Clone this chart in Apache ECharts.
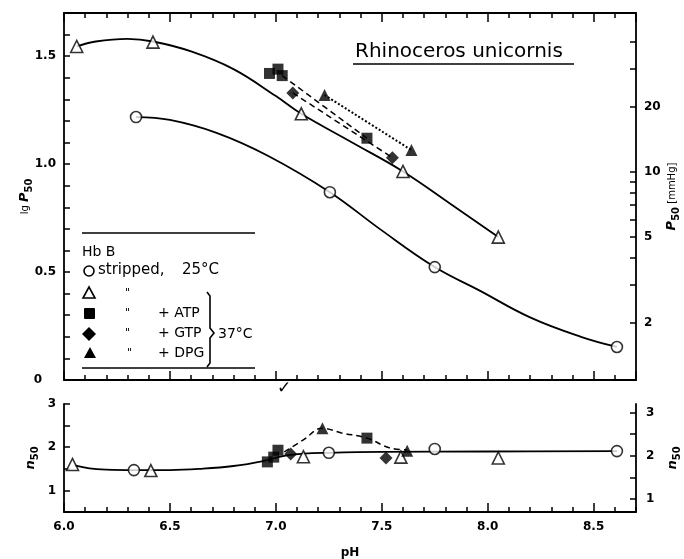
<!DOCTYPE html>
<html>
<head>
<meta charset="utf-8">
<title>Rhinoceros unicornis Hb B</title>
<script src="https://cdn.jsdelivr.net/npm/echarts@6/dist/echarts.min.js"></script>
<style>
html, body { margin: 0; padding: 0; background: #fff; }
#chart { width: 684px; height: 559px; }
</style>
</head>
<body>
<div id="chart"></div>
<script>
var phMin = 6.0, phMax = 8.7;

// upper panel, [pH, lg P50]
var stripped25Lg = [[6.34, 1.218], [7.255, 0.87], [7.75, 0.523], [8.61, 0.153]];
var stripped37Lg = [[6.06, 1.545], [6.42, 1.565], [7.12, 1.233], [7.6, 0.966], [8.05, 0.662]];
var atpLg = [[6.97, 1.42], [7.01, 1.44], [7.03, 1.41], [7.43, 1.12]];
var gtpLg = [[7.08, 1.33], [7.55, 1.03]];
var dpgLg = [[7.23, 1.32], [7.64, 1.065]];
// the drawn fit curves
var stripped25LgCurve = [[6.34, 1.218], [6.5, 1.205], [6.72, 1.145], [6.96, 1.04], [7.255, 0.87], [7.49, 0.70],
	[7.75, 0.523], [7.96, 0.415], [8.2, 0.29], [8.44, 0.20], [8.61, 0.153]];
var stripped37LgCurve = [[6.06, 1.545], [6.15, 1.568], [6.3, 1.58], [6.42, 1.568], [6.6, 1.522], [6.8, 1.44],
	[7.0, 1.315], [7.12, 1.233], [7.36, 1.10], [7.6, 0.966], [7.83, 0.812], [8.05, 0.662]];

// lower panel, [pH, n50]
var stripped25N = [[6.33, 1.47], [7.25, 1.87], [7.75, 1.96], [8.61, 1.91]];
var stripped37N = [[6.04, 1.6], [6.41, 1.46], [7.13, 1.78], [7.59, 1.77], [8.05, 1.75]];
var atpN = [[6.96, 1.66], [6.99, 1.77], [7.01, 1.93], [7.43, 2.21]];
var gtpN = [[7.07, 1.84], [7.52, 1.75]];
var dpgN = [[7.22, 2.44], [7.62, 1.92]];
var nCurve = [[6.05, 1.58], [6.12, 1.51], [6.2, 1.48], [6.33, 1.47], [6.5, 1.47], [6.65, 1.50], [6.8, 1.565],
	[6.94, 1.68], [7.04, 1.80], [7.13, 1.85], [7.25, 1.87], [7.5, 1.89], [8.0, 1.9], [8.61, 1.91]];
var effectorNCurve = [[7.04, 1.89], [7.13, 2.17], [7.22, 2.44], [7.31, 2.33], [7.43, 2.21], [7.54, 1.98], [7.62, 1.94]];

// tick labels
var lgLabels = [0, 0.5, 1.0, 1.5];
var p50Ticks = [2, 3, 4, 5, 6, 7, 8, 9, 10, 20, 30, 40];
var p50Labels = [2, 5, 10, 20];
var nLabels = [1, 2, 3];
var nRightTicks = [1, 1.5, 2, 2.5, 3];

var font = 'DejaVu Sans';
var black = '#000';
var labelStyle = { color: black, fontFamily: font, fontSize: 12, fontWeight: 'bold' };
var nameRich = {
	s: { fontFamily: font, fontSize: 10, color: black, lineHeight: 18, verticalAlign: 'middle' },
	i: { fontFamily: font, fontSize: 13, fontStyle: 'italic', fontWeight: 'bold', color: black, lineHeight: 18, verticalAlign: 'middle' },
	d: { fontFamily: font, fontSize: 10, fontWeight: 'bold', color: black, verticalAlign: 'bottom' }
};

function phAxis(grid, position, major, showLabels) {
	return {
		type: 'value', gridIndex: grid, position: position,
		min: phMin, max: phMax, interval: major ? 0.5 : 0.1,
		axisLine: { show: !major, onZero: false, lineStyle: { color: black, width: 1.8 } },
		axisTick: { inside: true, length: major ? 9 : 5, lineStyle: { color: black, width: 1.5 } },
		axisLabel: Object.assign({ show: !!showLabels, showMaxLabel: false, margin: 9,
			formatter: function(v) { return v.toFixed(1); } }, labelStyle),
		splitLine: { show: false }
	};
}

function lg(v) { return Math.log10(v); }

function curve(data, xi, yi, type, width) {
	return { type: 'line', xAxisIndex: xi, yAxisIndex: yi, data: data, smooth: 0.4,
		symbol: 'none', silent: true, z: 2,
		lineStyle: { color: black, width: width || 1.8, type: type || 'solid' } };
}

function marks(data, xi, yi, symbol, size, open) {
	return { type: 'scatter', xAxisIndex: xi, yAxisIndex: yi, data: data, symbol: symbol, symbolSize: size,
		silent: true, z: 3,
		itemStyle: open ? { color: '#fff', borderColor: black, borderWidth: 1.6 } : { color: black } };
}

var xAxes = [
	phAxis(0, 'bottom', false, false),
	phAxis(0, 'bottom', true, false),
	phAxis(0, 'top', false, false),
	phAxis(0, 'top', true, false),
	phAxis(1, 'bottom', false, false),
	phAxis(1, 'bottom', true, true)
];
xAxes[5].name = 'pH';
xAxes[5].nameLocation = 'middle';
xAxes[5].nameGap = 35;
xAxes[5].nameMoveOverlap = false;
xAxes[5].nameTextStyle = labelStyle;

var yAxes = [
	{
		type: 'value', gridIndex: 0, position: 'left', min: 0, max: 1.7, interval: 0.1,
		axisLine: { show: true, onZero: false, lineStyle: { color: black, width: 1.8 } },
		axisTick: { inside: true, length: 6, lineStyle: { color: black, width: 1.5 } },
		axisLabel: Object.assign({ customValues: lgLabels, margin: 8,
			formatter: function(v) { return v === 0 ? '{z|0}' : v.toFixed(1); },
			rich: { z: { color: black, fontFamily: font, fontSize: 12, fontWeight: 'bold', padding: [0, 14, 0, 0] } } }, labelStyle),
		splitLine: { show: false },
		name: '{s|lg }{i|P}{d|50}', nameLocation: 'middle', nameRotate: 90, nameGap: 30, nameMoveOverlap: false,
		nameTextStyle: { rich: nameRich }
	},
	{
		type: 'value', gridIndex: 0, position: 'right', min: 0.035, max: 1.735,
		axisLine: { show: true, onZero: false, lineStyle: { color: black, width: 1.8 } },
		axisTick: { inside: true, length: 6, customValues: p50Ticks.map(lg), lineStyle: { color: black, width: 1.5 } },
		axisLabel: Object.assign({ customValues: p50Labels.map(lg), margin: 8,
			formatter: function(v) { return String(Math.round(Math.pow(10, v))); } }, labelStyle),
		splitLine: { show: false },
		name: '{i|P}{d|50}{s| [mmHg]}', nameLocation: 'middle', nameRotate: 90, nameGap: 27, nameMoveOverlap: false,
		nameTextStyle: { rich: nameRich }
	},
	{
		type: 'value', gridIndex: 1, position: 'left', min: 0.5, max: 3, interval: 0.5,
		axisLine: { show: true, onZero: false, lineStyle: { color: black, width: 1.8 } },
		axisTick: { inside: true, length: 6, lineStyle: { color: black, width: 1.5 } },
		axisLabel: Object.assign({ customValues: nLabels, margin: 8 }, labelStyle),
		splitLine: { show: false },
		name: '{i|n}{d|50}', nameLocation: 'middle', nameRotate: 90, nameGap: 24, nameMoveOverlap: false,
		nameTextStyle: { rich: nameRich }
	},
	{
		type: 'value', gridIndex: 1, position: 'right', min: 0.7, max: 3.2,
		axisLine: { show: true, onZero: false, lineStyle: { color: black, width: 1.8 } },
		axisTick: { inside: true, length: 6, customValues: nRightTicks, lineStyle: { color: black, width: 1.5 } },
		axisLabel: Object.assign({ customValues: nLabels, margin: 10 }, labelStyle),
		splitLine: { show: false },
		name: '{i|n}{d|50}', nameLocation: 'middle', nameRotate: 90, nameGap: 28, nameMoveOverlap: false,
		nameTextStyle: { rich: nameRich }
	}
];

// legend block and title, drawn as plain graphics
var legendText = function(x, y, text, size) {
	return { type: 'text', x: x, y: y, silent: true,
		style: { text: text, fill: black, fontFamily: font, fontSize: size || 14, verticalAlign: 'middle' } };
};
var rule = function(x1, y1, x2, y2) {
	return { type: 'line', silent: true, shape: { x1: x1, y1: y1, x2: x2, y2: y2 }, style: { stroke: black, lineWidth: 1.6 } };
};
var graphics = [
	legendText(355, 52, 'Rhinoceros unicornis', 20),
	rule(353, 64, 574, 64),
	rule(82, 233, 255, 233),
	rule(82, 368, 255, 368),
	legendText(82, 252, 'Hb B'),
	{ type: 'circle', silent: true, shape: { cx: 89, cy: 271, r: 5 }, style: { fill: '#fff', stroke: black, lineWidth: 1.6 } },
	legendText(98, 270, 'stripped,', 15),
	legendText(182, 270, '25°C', 15),
	{ type: 'polygon', silent: true, shape: { points: [[89, 287], [95, 298], [83, 298]] }, style: { fill: '#fff', stroke: black, lineWidth: 1.6 } },
	{ type: 'rect', silent: true, shape: { x: 84, y: 308, width: 11, height: 11, r: 1 }, style: { fill: black } },
	{ type: 'polygon', silent: true, shape: { points: [[89, 327], [96, 334], [89, 341], [82, 334]] }, style: { fill: black } },
	{ type: 'polygon', silent: true, shape: { points: [[90, 347], [96, 358], [84, 358]] }, style: { fill: black } },
	legendText(125, 293, '"', 11),
	legendText(125, 313, '"', 11),
	legendText(125, 333, '"', 11),
	legendText(127, 353, '"', 11),
	legendText(158, 313, '+ ATP'),
	legendText(158, 333, '+ GTP'),
	legendText(158, 353, '+ DPG'),
	{ type: 'polyline', silent: true,
		shape: { points: [[207, 292], [210, 296], [210, 328], [214, 333], [210, 338], [210, 363], [207, 367]] },
		style: { stroke: black, lineWidth: 1.6, fill: null } },
	legendText(218, 334, '37°C'),
	legendText(277, 389, '✓', 17)
];

var chart = echarts.init(document.getElementById('chart'));
chart.setOption({
	animation: false,
	backgroundColor: '#fff',
	grid: [
		{ left: 64, right: 48, top: 13, bottom: 179, outerBoundsMode: 'none' },
		{ left: 64, right: 48, top: 404, bottom: 47, outerBoundsMode: 'none' }
	],
	xAxis: xAxes,
	yAxis: yAxes,
	graphic: graphics,
	series: [
		curve(stripped25LgCurve, 0, 0),
		curve(stripped37LgCurve, 0, 0),
		curve([atpLg[2], atpLg[3]], 0, 0, [6, 4], 1.5),
		curve(gtpLg, 0, 0, [6, 4], 1.5),
		curve(dpgLg, 0, 0, 'dotted', 2),
		marks(stripped25Lg, 0, 0, 'circle', 11, true),
		marks(stripped37Lg, 0, 0, 'triangle', 12, true),
		marks(atpLg, 0, 0, 'rect', 11, false),
		marks(gtpLg, 0, 0, 'diamond', 13, false),
		marks(dpgLg, 0, 0, 'triangle', 12, false),

		curve(nCurve, 4, 2),
		curve(effectorNCurve, 4, 2, [6, 4], 1.5),
		marks(stripped25N, 4, 2, 'circle', 11, true),
		marks(stripped37N, 4, 2, 'triangle', 12, true),
		marks(atpN, 4, 2, 'rect', 11, false),
		marks(gtpN, 4, 2, 'diamond', 13, false),
		marks(dpgN, 4, 2, 'triangle', 12, false)
	]
});
</script>
</body>
</html>
